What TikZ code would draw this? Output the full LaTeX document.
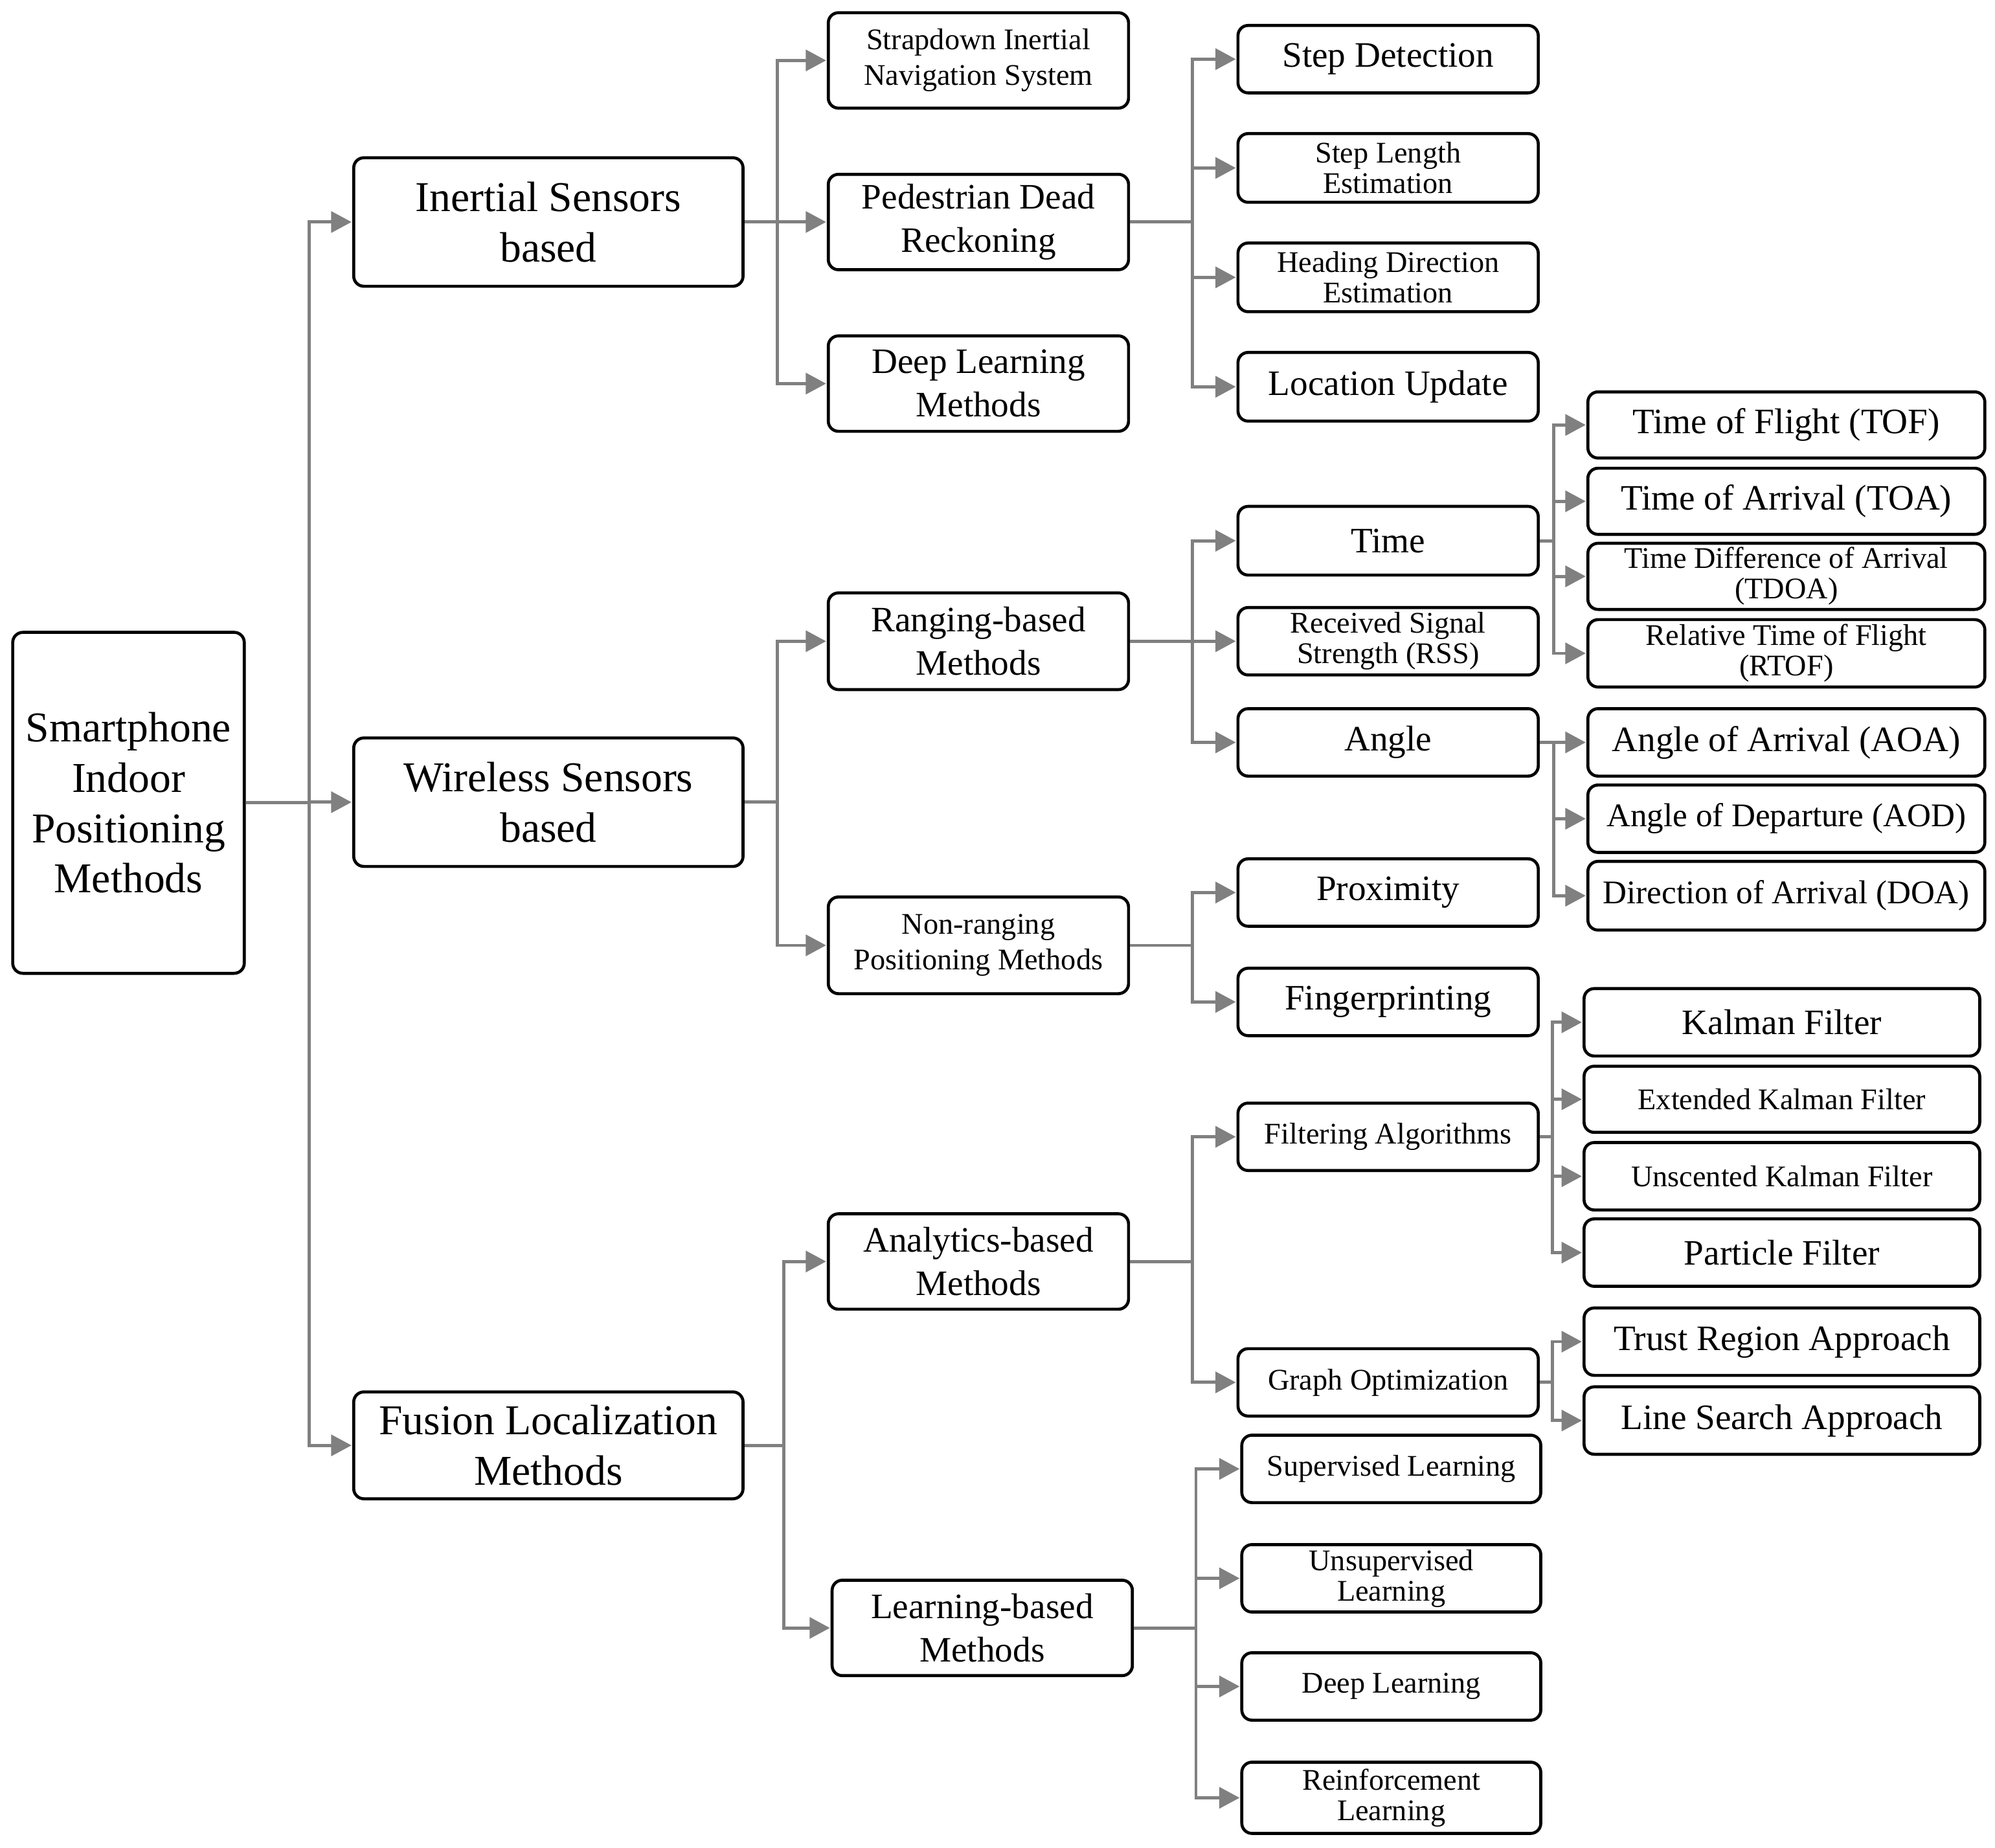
\documentclass[tikz,border=0pt]{standalone}
\usepackage{fontspec}
\setmainfont{Liberation Serif}
\usetikzlibrary{arrows.meta}
\newcommand{\fXL}{\fontsize{19}{22.5}\selectfont}
\newcommand{\fL}{\fontsize{16}{19.4}\selectfont}
\newcommand{\fM}{\fontsize{14.8}{17}\selectfont}
\newcommand{\fS}{\fontsize{13.4}{16}\selectfont}
\newcommand{\fST}{\fontsize{13.4}{13.6}\selectfont}
\tikzset{
  box/.style={draw=black, line width=1.35pt, rounded corners=0.16cm, align=center, inner sep=0pt, fill=white},
  wh/.style 2 args={minimum width=#1*0.02cm, minimum height=#2*0.02cm},
  conn/.style={draw=gray, line width=1.4pt, -{Triangle[length=0.32cm,width=0.33cm]}, shorten >=0.3pt},
}
\begin{document}
\begin{tikzpicture}[x=0.02cm, y=-0.02cm]
\useasboundingbox (0,0) rectangle (1568,1452);
% trunk coordinates
\coordinate (t0) at (243,0);
\coordinate (t1) at (611,0);
\coordinate (t1f) at (616,0);
\coordinate (t2) at (937,0);
\coordinate (t2l) at (940,0);
\coordinate (t3) at (1221,0);
\coordinate (t3f) at (1220,0);
% level 0
\node[box, wh={182}{268}, font=\fXL] (root) at (101,631) {Smartphone\\Indoor\\Positioning\\Methods};
% level 1
\node[box, wh={306}{101}, font=\fXL] (inert) at (431,174.5) {Inertial Sensors\\based};
\node[box, wh={306}{101}, font=\fXL] (wire) at (431,630.5) {Wireless Sensors\\based};
\node[box, wh={306}{84}, font=\fXL] (fusion) at (431,1136) {Fusion Localization\\Methods};
% inertial children
\node[box, wh={236}{75}, font=\fS] (sins) at (769,47.5) {Strapdown Inertial\\Navigation System};
\node[box, wh={236}{75}, font=\fL] (pdr) at (769,174.5) {Pedestrian Dead\\Reckoning};
\node[box, wh={236}{75}, font=\fL] (dlm) at (769,301.5) {Deep Learning\\Methods};
% pdr children
\node[box, wh={236}{53}, font=\fL] (sd) at (1091,46.5) {Step Detection};
\node[box, wh={236}{54}, font=\fST] (sle) at (1091,132) {Step Length\\Estimation};
\node[box, wh={236}{54}, font=\fST] (hde) at (1091,218) {Heading Direction\\Estimation};
\node[box, wh={236}{54}, font=\fL] (lu) at (1091,304) {Location Update};
% wireless children
\node[box, wh={236}{76}, font=\fL] (rbm) at (769,504) {Ranging-based\\Methods};
\node[box, wh={236}{76}, font=\fS] (nrpm) at (769,743) {Non-ranging\\Positioning Methods};
% ranging children
\node[box, wh={236}{54}, font=\fL] (time) at (1091,425) {Time};
\node[box, wh={236}{53}, font=\fST] (rss) at (1091,504) {Received Signal\\Strength (RSS)};
\node[box, wh={236}{53}, font=\fL] (angle) at (1091,583.5) {Angle};
% time children
\node[box, wh={312}{52}, font=\fL] (tof) at (1404,334) {Time of Flight (TOF)};
\node[box, wh={312}{52}, font=\fL] (toa) at (1404,394) {Time of Arrival (TOA)};
\node[box, wh={312}{52}, font=\fST] (tdoa) at (1404,453) {Time Difference of Arrival\\(TDOA)};
\node[box, wh={312}{53}, font=\fST] (rtof) at (1404,513.5) {Relative Time of Flight\\(RTOF)};
% angle children
\node[box, wh={312}{53}, font=\fL] (aoa) at (1404,583.5) {Angle of Arrival (AOA)};
\node[box, wh={312}{53}, font=\fM] (aod) at (1404,643.5) {Angle of Departure (AOD)};
\node[box, wh={312}{54}, font=\fM] (doa) at (1404,704) {Direction of Arrival (DOA)};
% non-ranging children
\node[box, wh={236}{53}, font=\fL] (prox) at (1091,701.5) {Proximity};
\node[box, wh={236}{53}, font=\fL] (fing) at (1091,787.5) {Fingerprinting};
% fusion children
\node[box, wh={236}{75}, font=\fL] (abm) at (769,991.5) {Analytics-based\\Methods};
\node[box, wh={236}{75}, font=\fL] (lbm) at (772,1279.5) {Learning-based\\Methods};
% analytics children
\node[box, wh={236}{53}, font=\fS] (fa) at (1091,893.5) {Filtering Algorithms};
\node[box, wh={236}{53}, font=\fS] (go) at (1091,1086.5) {Graph Optimization};
% filtering children
\node[box, wh={311}{53}, font=\fL] (kf) at (1400.5,803.5) {Kalman Filter};
\node[box, wh={311}{52}, font=\fS] (ekf) at (1400.5,864) {Extended Kalman Filter};
\node[box, wh={311}{53}, font=\fS] (ukf) at (1400.5,924.5) {Unscented Kalman Filter};
\node[box, wh={311}{53}, font=\fL] (pf) at (1400.5,984.5) {Particle Filter};
% graph children
\node[box, wh={311}{53}, font=\fL] (tra) at (1400.5,1054.5) {Trust Region Approach};
\node[box, wh={311}{53}, font=\fL] (lsa) at (1400.5,1116.5) {Line Search Approach};
% learning children
\node[box, wh={235}{53}, font=\fS] (sl) at (1093.5,1154.5) {Supervised Learning};
\node[box, wh={235}{53}, font=\fST] (ul) at (1093.5,1240.5) {Unsupervised\\Learning};
\node[box, wh={235}{53}, font=\fS] (dl) at (1093.5,1325.5) {Deep Learning};
\node[box, wh={235}{56}, font=\fST] (rl) at (1093.5,1413) {Reinforcement\\Learning};
% connectors
\foreach \c in {inert,wire,fusion}
  \draw[conn] (root.east) -- (root.east -| t0) |- (\c.west);
\foreach \c in {sins,pdr,dlm}
  \draw[conn] (inert.east) -- (inert.east -| t1) |- (\c.west);
\foreach \c in {sd,sle,hde,lu}
  \draw[conn] (pdr.east) -- (pdr.east -| t2) |- (\c.west);
\foreach \c in {rbm,nrpm}
  \draw[conn] (wire.east) -- (wire.east -| t1) |- (\c.west);
\foreach \c in {time,rss,angle}
  \draw[conn] (rbm.east) -- (rbm.east -| t2) |- (\c.west);
\foreach \c in {tof,toa,tdoa,rtof}
  \draw[conn] (time.east) -- (time.east -| t3) |- (\c.west);
\foreach \c in {aoa,aod,doa}
  \draw[conn] (angle.east) -- (angle.east -| t3) |- (\c.west);
\foreach \c in {prox,fing}
  \draw[conn] (nrpm.east) -- (nrpm.east -| t2) |- (\c.west);
\foreach \c in {abm,lbm}
  \draw[conn] (fusion.east) -- (fusion.east -| t1f) |- (\c.west);
\foreach \c in {fa,go}
  \draw[conn] (abm.east) -- (abm.east -| t2) |- (\c.west);
\foreach \c in {kf,ekf,ukf,pf}
  \draw[conn] (fa.east) -- (fa.east -| t3f) |- (\c.west);
\foreach \c in {tra,lsa}
  \draw[conn] (go.east) -- (go.east -| t3f) |- (\c.west);
\foreach \c in {sl,ul,dl,rl}
  \draw[conn] (lbm.east) -- (lbm.east -| t2l) |- (\c.west);
\end{tikzpicture}
\end{document}
